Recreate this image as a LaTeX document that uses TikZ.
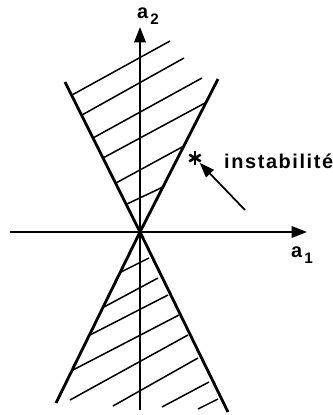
\documentclass[tikz,border=0pt]{standalone}
\usepackage{fontspec}
\setmainfont{Liberation Sans}
\newfontfamily\spacedfont[LetterSpace=8]{Liberation Sans}
\usetikzlibrary{arrows.meta}

\begin{document}
\begin{tikzpicture}[x=0.03cm, y=0.03cm,
  axis/.style={line width=1.8pt, -{Triangle[length=4.6mm, width=3.4mm]}},
  coneline/.style={line width=2.4pt},
  hatch/.style={line width=1.3pt},
  lab/.style={font=\bfseries\fontsize{17}{17}\selectfont, inner sep=0pt}]
\useasboundingbox (-140,-183) rectangle (193,232);
\def\sub#1{\hspace{2pt}\raisebox{-5pt}{\fontsize{13}{13}\selectfont #1}}
\coordinate (O) at (0,0);
\coordinate (Atop) at (-75,150);
\coordinate (Abot) at (88,-180);
\coordinate (Btop) at (78,153);
\coordinate (Bbot) at (-84,-171);
\coordinate (Xl) at (-130,0);
\coordinate (Xr) at (167,0);
\coordinate (Yb) at (0,-178);
\coordinate (Yt) at (0,205);
% hatching of the two cones
\foreach \xa/\ya/\xb/\yb in {-68/137/30/191, -58/117/44/174, -47/94/62/154,
    -37/74/65/129, -24/49/44/86, -13/28/23/45,
    -19/-40/9/-26, -36/-75/18/-46, -50/-103/28/-63, -67/-138/39/-83,
    -70/-168/48/-103, -27/-174/58/-126, 22/-175/69/-150, 58/-177/78/-167}
  \draw[hatch] (\xa,\ya) -- (\xb,\yb);
% cone boundaries
\draw[coneline] (Atop) -- (O) -- (Abot);
\draw[coneline] (Btop) -- (O) -- (Bbot);
% axes
\draw[axis] (Xl) -- (Xr);
\draw[axis] (Yb) -- (Yt);
\node[lab] (a2lab) at (8,216) {a\sub{2}};
\node[lab] (a1lab) at (162,-23) {a\sub{1}};
% instability point
\node[circle, inner sep=0pt, minimum size=11pt] (star) at (55,74) {};
\foreach \u/\v in {90/270, 30/210, 150/330}
  \draw[line width=2.2pt] (star.\u) -- (star.\v);
\node[lab, anchor=base west, font=\spacedfont\bfseries\fontsize{17}{17}\selectfont] (instab) at (84,64) {instabilité};
\coordinate (tail) at (105,22);
\draw[line width=1.5pt, -{Triangle[length=4.5mm, width=3.2mm]}] (tail) -- (star);
\end{tikzpicture}
\end{document}
